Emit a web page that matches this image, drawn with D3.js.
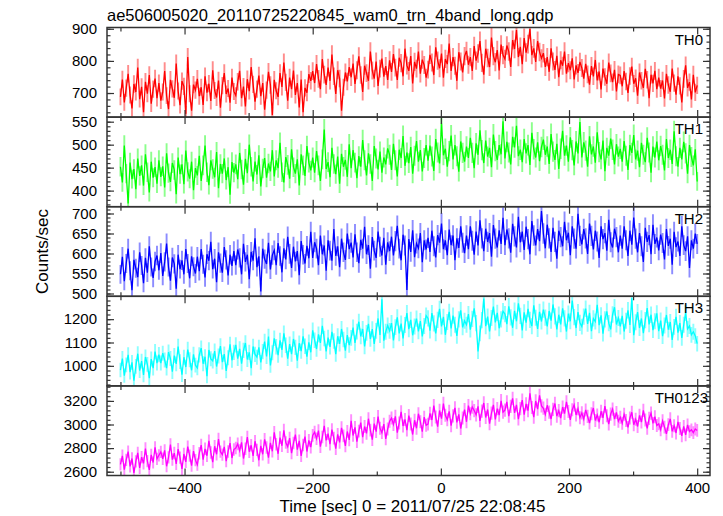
<!DOCTYPE html>
<html><head><meta charset="utf-8">
<script src="https://cdn.jsdelivr.net/npm/d3@7"></script>
<style>body{margin:0;background:#fff}svg text{font-family:"Liberation Sans",Arial,sans-serif}</style>
</head><body><svg id="c" width="723" height="516"></svg>
<script>
const title = "ae506005020_20110725220845_wam0_trn_4band_long.qdp";
const xLabel = "Time [sec] 0 = 2011/07/25 22:08:45";
const yLabel = "Counts/sec";
const tStart = -500, tStep = 3;
const bandNames = ["TH0","TH1","TH2","TH3","TH0123"];
const bandColors = ["#ff0000","#00ff00","#0000ff","#00ffff","#ff00ff"];
const th0 = [688,742,671,715,760,694,652,728,703,779,681,719,640,735,698,756,667,712,745,684,
731,676,703,768,692,650,741,713,685,792,706,662,737,721,635,812,698,645,726,709,
744,690,718,663,752,701,729,675,771,708,686,739,654,723,762,697,714,670,748,705,
692,735,769,684,720,658,743,706,781,727,673,712,754,690,731,648,709,766,725,632,
741,707,688,762,719,795,733,676,748,712,770,694,731,655,742,640,716,701,759,738,
768,731,790,744,712,806,757,725,779,738,820,752,697,771,745,645,718,764,736,781,
749,792,728,771,814,756,703,785,762,738,829,770,745,798,722,776,807,751,784,741,
802,766,821,779,741,810,793,752,838,786,769,815,730,797,776,829,760,804,787,748,
773,819,795,756,842,801,777,823,748,806,790,854,769,812,785,738,827,798,764,815,
831,788,812,769,846,801,823,862,794,757,838,809,781,873,815,796,834,770,851,818,
806,848,829,781,865,837,896,812,844,790,871,826,852,899,818,839,797,862,828,808,
824,781,812,766,839,798,772,816,749,802,785,829,760,793,771,808,742,786,763,797,
778,745,791,758,726,784,752,803,739,767,711,776,750,729,795,761,734,772,705,758,
755,721,768,736,700,753,782,729,746,692,764,738,716,775,741,684,757,730,769,712,
748,714,739,683,760,725,704,776,731,695,752,722,671,744,786,716,734,680,757,702,724];
const th1 = [452,418,498,437,372,461,425,447,403,470,432,455,411,479,440,396,463,428,451,415,
466,430,453,407,481,438,419,460,445,392,472,436,457,414,487,441,426,463,401,449,
433,476,421,455,498,440,412,466,447,429,484,405,458,437,470,423,451,391,462,439,
457,425,482,446,413,469,438,500,452,420,463,435,477,409,448,471,428,459,442,488,
431,466,449,504,440,418,473,456,426,490,451,437,468,411,479,455,432,497,461,444,
472,439,486,455,421,468,533,447,462,429,493,458,436,474,415,480,452,467,430,501,
449,488,461,427,475,452,510,466,433,481,458,421,497,470,446,485,439,472,457,492,
478,445,502,466,431,489,471,519,454,483,460,495,437,476,508,463,488,442,471,499,
465,498,474,443,512,483,459,546,477,491,452,486,520,468,499,475,441,507,482,463,
496,471,515,482,449,503,478,531,488,460,509,474,493,451,522,486,467,499,479,551,
470,506,483,457,517,494,541,475,489,462,512,481,499,456,526,490,472,505,464,495,
511,478,496,458,523,485,467,502,447,491,530,476,498,463,516,488,455,507,481,549,
472,505,487,452,518,479,496,461,527,484,468,509,442,493,476,513,489,457,501,474,
491,463,508,476,445,499,482,521,468,487,451,504,478,462,515,483,439,496,472,507,
466,497,478,444,512,471,489,458,529,475,452,493,468,506,481,437,499,473,455,490,420];
const th2 = [548,592,531,575,612,557,508,584,563,541,603,570,526,589,552,618,566,539,580,595,
558,601,544,579,625,566,532,590,574,512,597,561,583,548,611,575,538,593,567,550,
592,556,611,573,540,598,582,629,561,587,528,603,576,552,616,584,545,597,569,606,
571,610,589,548,624,579,597,536,604,582,638,566,593,505,612,586,574,627,560,596,
608,571,626,594,553,613,585,642,599,564,617,580,606,546,631,597,575,619,588,654,
589,628,612,571,645,598,620,557,633,607,582,661,594,618,566,637,603,584,650,611,
627,590,648,603,576,634,612,667,598,621,562,641,607,589,655,617,595,639,572,628,
606,642,595,631,669,612,583,647,620,509,636,604,658,591,625,613,651,578,633,610,
639,604,657,618,590,646,627,675,611,633,596,660,621,645,583,638,614,668,627,601,
645,611,668,632,597,655,620,683,638,606,662,629,651,592,671,637,615,658,624,689,
621,660,638,602,674,643,615,692,628,655,609,667,636,598,681,645,620,661,631,706,
650,613,672,638,604,664,629,587,657,641,618,679,633,652,596,668,637,612,699,644,
623,661,638,599,675,644,610,657,630,589,668,636,651,607,684,628,615,662,641,603,
645,612,668,633,594,657,622,690,637,603,651,618,579,664,629,646,598,672,624,640,
608,647,626,585,661,619,637,572,654,616,630,594,668,621,606,643,564,633,612,650,624];
const th3 = [982,1031,958,1004,1047,973,1015,936,998,1052,979,1020,961,1038,1006,947,1029,990,1061,1012,
1048,1012,1054,1025,990,1059,1031,975,1044,1008,1083,1018,962,1037,995,1070,1026,981,1049,1003,
991,1047,1076,1009,1039,956,1068,1030,1021,1063,997,1042,1085,1016,1050,978,1035,1092,1024,1058,
1090,1031,1073,1009,1066,1098,1027,1058,990,1083,1049,1037,1079,1015,1061,1104,1040,1125,1002,1056,
1118,1082,1046,1109,1068,1139,1088,1031,1093,1050,1115,1079,1022,1097,1063,1126,1084,1039,1101,1058,
1152,1110,1072,1135,1098,1171,1117,1062,1121,1081,1146,1106,1050,1127,1094,1158,1113,1065,1132,1089,
1120,1164,1098,1147,1189,1126,1158,1083,1141,1180,1115,1157,1094,1150,1203,1132,1285,1108,1146,1173,
1150,1183,1109,1166,1208,1139,1181,1118,1175,1226,1157,1197,1131,1169,1202,1148,1192,1126,1171,1215,
1203,1151,1226,1182,1139,1197,1244,1169,1210,1133,1188,1231,1160,1215,1176,1128,1199,1238,1165,1193,
1176,1222,1155,1201,1246,1183,1062,1139,1196,1288,1170,1211,1148,1205,1254,1186,1227,1161,1199,1234,
1222,1179,1255,1208,1163,1236,1191,1268,1214,1152,1229,1185,1244,1197,1170,1259,1206,1158,1231,1190,
1241,1207,1169,1235,1194,1263,1212,1156,1219,1178,1246,1203,1147,1224,1191,1280,1209,1162,1230,1184,
1168,1211,1245,1180,1227,1149,1203,1190,1262,1174,1216,1138,1199,1233,1183,1156,1220,1251,1177,1205,
1169,1214,1147,1193,1238,1175,1290,1131,1187,1230,1162,1203,1140,1196,1247,1178,1219,1153,1191,1225,
1149,1194,1127,1173,1218,1155,1188,1111,1167,1210,1142,1183,1120,1176,1227,1158,1171,1133,1146,1128,1095];
const th0123 = [2662,2735,2618,2701,2770,2645,2712,2590,2688,2759,2633,2724,2671,2796,2690,2615,2743,2678,2806,2709,
2739,2768,2710,2781,2646,2722,2830,2703,2758,2667,2791,2719,2624,2750,2683,2812,2736,2651,2774,2698,
2660,2757,2826,2702,2794,2735,2861,2763,2681,2816,2748,2877,2770,2745,2811,2690,2772,2843,2716,2788,
2801,2836,2779,2848,2712,2794,2893,2769,2824,2734,2858,2785,2697,2819,2748,2874,2806,2720,2845,2773,
2934,2833,2752,2889,2820,2951,2847,2812,2884,2758,2843,2915,2787,2861,2734,2826,2897,2771,2866,2808,
2908,2935,2879,2948,2812,2894,2989,2866,2923,2833,2956,2885,2795,2917,2849,2972,2903,2818,2941,2870,
3031,2907,2976,2854,2944,3016,2892,2983,2925,3049,2953,2871,3008,2939,3067,2968,2931,3003,2878,2962,
3027,3055,3000,3069,2931,3013,3108,2987,3043,2952,3076,3004,2915,3036,2968,3091,3024,2939,3062,2993,
3003,3094,3038,3160,3064,2982,3119,3050,3178,3078,3041,3112,2990,3073,3141,3018,3086,2966,3055,3126,
3023,3160,3091,3148,3118,3082,3153,3031,3114,3182,3059,3127,3007,3096,3167,3044,3135,3079,3201,3105,
3121,3192,3070,3153,3221,3098,3166,3046,3135,3206,3083,3174,3118,3265,3144,3062,3199,3130,3246,3157,
3138,3086,3163,3105,3047,3129,3178,3071,3117,3054,3148,3093,3192,3110,3039,3125,3167,3081,3134,3058,
3098,3046,3123,3069,3012,3091,3140,3034,3081,3019,3112,3057,3156,3074,3003,3088,3131,3045,3102,3027,
3061,3011,3087,3034,2976,3055,3104,2998,3045,2983,3077,3021,3119,3039,2968,3052,3096,3009,3066,2992,
3006,2955,3031,2978,2921,2999,3048,2942,2990,2928,3022,2966,2904,2984,2913,2997,2940,2955,2931,2962,2950];
const series = [th0, th1, th2, th3, th0123];
const yDomains = [[625,904],[365,560],[493,717],[914,1298],[2568,3327]];
const yTicks = [[700,800,900],[400,450,500,550],[500,550,600,650,700],[1000,1100,1200],[2600,2800,3000,3200]];
const yMinorStep = [20,10,10,20,40];
const xDomain = [-521,420];
const xTicks = [-400,-200,0,200,400];
const xMinorTicks = [-500,-300,-100,100,300];

const svg = d3.select("#c");
const L = 107, R = 710, T = 27.5, PH = 89.6;
const x = d3.scaleLinear().domain(xDomain).range([L, R]);
const FONT = '"Liberation Sans",Arial,sans-serif';
const frameCol = "#333";
const barW = Math.abs(x(tStep) - x(0));

svg.append("text").attr("x", L).attr("y", 20.5).attr("font-size", 16.5).attr("fill", "#000").text(title);

function styleAxis(g){
  g.select(".domain").remove();
  g.selectAll("line").attr("stroke", frameCol).attr("stroke-width", 1.2);
  g.attr("font-family", FONT).attr("font-size", 15);
  g.selectAll("text").attr("fill", "#000");
}

series.forEach((vals, i) => {
  const y0 = T + i * PH, y1 = y0 + PH;
  const y = d3.scaleLinear().domain(yDomains[i]).range([y1, y0]);
  const times = vals.map((v, j) => tStart + j * tStep);
  const col = bandColors[i];
  const id = "clip" + i;
  svg.append("clipPath").attr("id", id).append("rect")
    .attr("x", L).attr("y", y0).attr("width", R - L).attr("height", PH);
  const g = svg.append("g").attr("clip-path", `url(#${id})`);
  g.append("g").attr("stroke", col).attr("stroke-opacity", 0.45).attr("stroke-width", barW)
    .selectAll("line").data(vals).join("line")
    .attr("x1", (d, j) => x(times[j])).attr("x2", (d, j) => x(times[j]))
    .attr("y1", d => y(d - Math.sqrt(d))).attr("y2", d => y(d + Math.sqrt(d)));
  g.append("path").datum(vals)
    .attr("d", d3.line().x((d, j) => x(times[j])).y(d => y(d)))
    .attr("fill", "none").attr("stroke", col).attr("stroke-width", 1.3);

  const [lo, hi] = yDomains[i];
  const minor = d3.range(Math.ceil(lo / yMinorStep[i]) * yMinorStep[i], hi, yMinorStep[i]);
  svg.append("g").attr("transform", `translate(${L},0)`)
    .call(d3.axisLeft(y).tickValues(yTicks[i]).tickSize(-7).tickPadding(10).tickFormat(d3.format("d"))).call(styleAxis);
  svg.append("g").attr("transform", `translate(${L},0)`)
    .call(d3.axisLeft(y).tickValues(minor).tickSize(-3.5).tickFormat("")).call(styleAxis);
  svg.append("g").attr("transform", `translate(${R},0)`)
    .call(d3.axisRight(y).tickValues(yTicks[i]).tickSize(-7).tickFormat("")).call(styleAxis);
  svg.append("g").attr("transform", `translate(${R},0)`)
    .call(d3.axisRight(y).tickValues(minor).tickSize(-3.5).tickFormat("")).call(styleAxis);

  svg.append("g").attr("transform", `translate(0,${y0})`)
    .call(d3.axisTop(x).tickValues(xTicks).tickSize(-7).tickFormat("")).call(styleAxis);
  svg.append("g").attr("transform", `translate(0,${y0})`)
    .call(d3.axisTop(x).tickValues(xMinorTicks).tickSize(-4).tickFormat("")).call(styleAxis);
  const last = i === series.length - 1;
  svg.append("g").attr("transform", `translate(0,${y1})`)
    .call(d3.axisBottom(x).tickValues(xTicks).tickSize(-7).tickPadding(6.5)
      .tickFormat(last ? (d => (d < 0 ? "\u2212" + Math.abs(d) : String(d))) : "")).call(styleAxis);
  svg.append("g").attr("transform", `translate(0,${y1})`)
    .call(d3.axisBottom(x).tickValues(xMinorTicks).tickSize(-4).tickFormat("")).call(styleAxis);

  svg.append("rect").attr("x", L).attr("y", y0).attr("width", R - L).attr("height", PH)
    .attr("fill", "none").attr("stroke", frameCol).attr("stroke-width", 1.5);

  svg.append("text").attr("x", last ? 708 : 703).attr("y", y0 + 17)
    .attr("text-anchor", "end").attr("font-size", 15).attr("fill", "#000").text(bandNames[i]);
});

svg.append("text").attr("transform", `translate(48,${T + 2.5 * PH}) rotate(-90)`)
  .attr("text-anchor", "middle").attr("font-size", 17).attr("fill", "#000").text(yLabel);
svg.append("text").attr("x", (L + R) / 2 + 4).attr("y", 512)
  .attr("text-anchor", "middle").attr("font-size", 17).attr("fill", "#000").text(xLabel);
</script></body></html>
